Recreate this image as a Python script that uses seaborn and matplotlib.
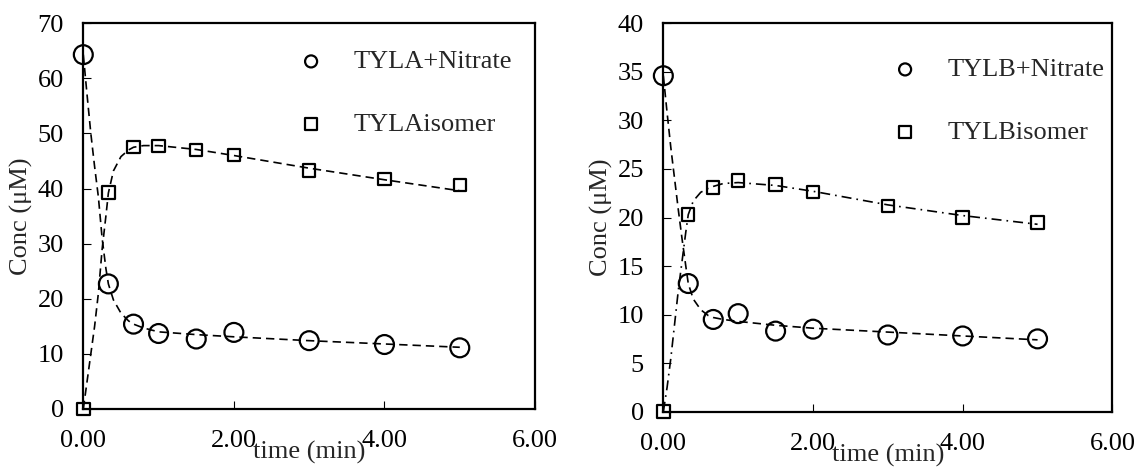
import matplotlib
matplotlib.use("Agg")
import matplotlib.pyplot as plt
import seaborn as sns
import pandas as pd

# ---- measured data points ----
time_min = [0, 0.333, 0.667, 1.0, 1.5, 2.0, 3.0, 4.0, 5.0]
tyla_nitrate = [64.3, 22.7, 15.4, 13.7, 12.7, 13.9, 12.4, 11.7, 11.1]
tyla_isomer = [0, 39.3, 47.5, 47.7, 47.0, 46.1, 43.3, 41.7, 40.7]
tylb_nitrate = [34.6, 13.2, 9.5, 10.1, 8.3, 8.5, 7.9, 7.8, 7.5]
tylb_isomer = [0, 20.3, 23.1, 23.8, 23.4, 22.6, 21.2, 20.0, 19.5]

# ---- fitted curves ----
fit_time = [0, 0.05, 0.1, 0.15, 0.2, 0.25, 0.3, 0.333, 0.4, 0.5, 0.6, 0.667, 0.8, 1.0, 1.5, 2.0, 3.0, 4.0, 5.0]
fit_tyla_nitrate = [64.3, 57.0, 50.0, 44.0, 38.5, 31.0, 25.5, 22.7, 19.8, 17.4, 16.0, 15.4, 14.7, 14.0, 13.5, 13.1, 12.4, 11.8, 11.2]
fit_tyla_isomer = [0, 5.0, 10.0, 15.0, 21.0, 29.0, 35.0, 39.2, 43.2, 45.8, 47.0, 47.5, 47.8, 47.8, 47.1, 46.0, 43.7, 41.6, 39.6]
fit_tylb_nitrate = [34.6, 30.8, 27.2, 24.0, 20.8, 17.8, 15.0, 13.2, 11.6, 10.5, 9.9, 9.7, 9.5, 9.3, 8.9, 8.6, 8.2, 7.8, 7.4]
fit_tylb_isomer = [0, 2.5, 5.5, 9.0, 12.5, 15.5, 18.5, 20.3, 21.7, 22.6, 23.0, 23.2, 23.5, 23.6, 23.3, 22.7, 21.3, 20.2, 19.3]

x_ticks = [0, 2, 4, 6]
x_tick_labels = ["0.00", "2.00", "4.00", "6.00"]
left_yticks = [0, 10, 20, 30, 40, 50, 60, 70]
right_yticks = [0, 5, 10, 15, 20, 25, 30, 35, 40]

sns.set_style("ticks")
plt.rcParams["font.family"] = ["Liberation Serif", "DejaVu Serif"]
plt.rcParams["font.size"] = 19
plt.rcParams["axes.linewidth"] = 1.6

fig = plt.figure(figsize=(11.38, 4.67), dpi=100)
ax1 = fig.add_axes([0.0732, 0.1242, 0.397, 0.826])
ax2 = fig.add_axes([0.5829, 0.1184, 0.3946, 0.8317])


def panel(ax, pts_n, pts_i, fit_n, fit_i, lab_n, lab_i, ls_i, ylim, yticks, leg_anchor):
    df_fit = pd.DataFrame({"t": fit_time, "n": fit_n, "i": fit_i})
    sns.lineplot(data=df_fit, x="t", y="n", ax=ax, color="black", lw=1.2,
                 legend=False, sort=False).lines[-1].set_dashes([5, 3])
    line_i = sns.lineplot(data=df_fit, x="t", y="i", ax=ax, color="black", lw=1.2,
                          legend=False, sort=False).lines[-1]
    line_i.set_dashes(ls_i)
    for ln in ax.lines:
        ln.set_clip_on(False)
    df_pts = pd.DataFrame({"t": time_min, "n": pts_n, "i": pts_i})
    sns.scatterplot(data=df_pts, x="t", y="n", ax=ax, marker="o", s=185,
                    facecolor="none", edgecolor="black", linewidth=1.6,
                    clip_on=False, label=lab_n, zorder=5)
    sns.scatterplot(data=df_pts, x="t", y="i", ax=ax, marker="s", s=80,
                    facecolor="none", edgecolor="black", linewidth=1.6,
                    clip_on=False, label=lab_i, zorder=5)
    ax.set_xlim(0, 6)
    ax.set_ylim(*ylim)
    ax.set_xticks(x_ticks)
    ax.set_xticklabels(x_tick_labels)
    ax.set_yticks(yticks)
    ax.set_yticklabels([str(v) for v in yticks])
    ax.tick_params(axis="both", direction="in", length=6, width=0.8, labelsize=19,
                   colors="black")
    ax.tick_params(axis="x", pad=15)
    ax.tick_params(axis="y", pad=14)
    ax.set_xlabel("time (min)", fontsize=19, labelpad=-8)
    ax.set_ylabel("Conc (μM)", fontsize=19, labelpad=3)
    for sp in ax.spines.values():
        sp.set_visible(True)
        sp.set_linewidth(1.6)
        sp.set_color("black")
    leg = ax.legend(loc="upper left", bbox_to_anchor=leg_anchor, frameon=False,
                    fontsize=19, borderpad=0, handlelength=1.0, handletextpad=1.1,
                    labelspacing=1.48, borderaxespad=0)
    hs = leg.legend_handles
    hs[0].set_sizes([75])
    hs[1].set_sizes([75])
    return ax


panel(ax1, tyla_nitrate, tyla_isomer, fit_tyla_nitrate, fit_tyla_isomer,
      "TYLA+Nitrate", "TYLAisomer", [5, 3], (0, 70), left_yticks, (0.475, 0.931))
panel(ax2, tylb_nitrate, tylb_isomer, fit_tylb_nitrate, fit_tylb_isomer,
      "TYLB+Nitrate", "TYLBisomer", [6, 3, 1, 3], (0, 40), right_yticks, (0.509, 0.911))

fig.savefig("out.png", dpi=100)
